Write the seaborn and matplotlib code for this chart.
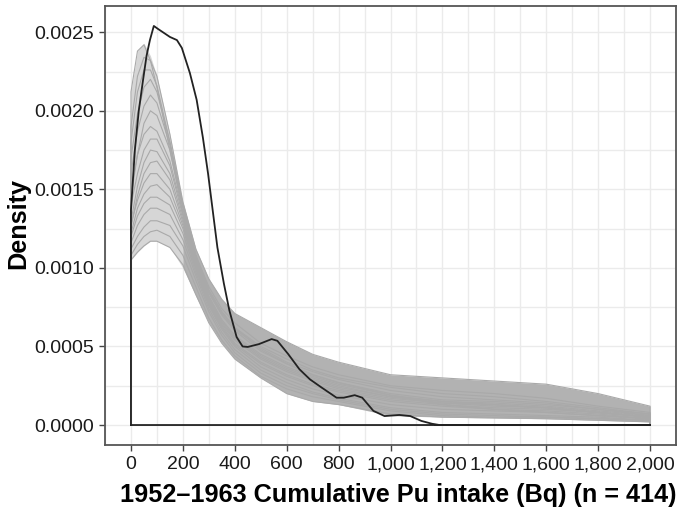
import matplotlib
matplotlib.use("Agg")
import matplotlib.pyplot as plt
from matplotlib.ticker import MultipleLocator, FuncFormatter
import seaborn as sns
import pandas as pd

# grid of intake values (Bq) where the simulated densities were read
grid_x = [0, 25, 50, 75, 100, 150, 200, 250, 300, 350, 400, 500, 600, 700, 800,
          1000, 1200, 1400, 1600, 1800, 2000]

# simulated densities (grey curves)
sim_1 = [0.00212, 0.00238, 0.00242, 0.00232, 0.00215, 0.00175, 0.00135, 0.00105, 0.00085, 0.00072, 0.00062,
         0.00048, 0.00039, 0.00032, 0.00027, 0.00019, 0.00013, 0.00010, 0.00008, 0.00006, 0.00004]
sim_2 = [0.00190, 0.00222, 0.00234, 0.00232, 0.00222, 0.00185, 0.00142, 0.00112, 0.00093, 0.00080, 0.00071,
         0.00062, 0.00053, 0.00045, 0.00040, 0.00032, 0.00030, 0.00028, 0.00026, 0.00020, 0.00012]
sim_3 = [0.00170, 0.00198, 0.00215, 0.00220, 0.00212, 0.00180, 0.00140, 0.00108, 0.00086, 0.00072, 0.00062,
         0.00050, 0.00042, 0.00035, 0.00030, 0.00024, 0.00020, 0.00018, 0.00015, 0.00011, 0.00007]
sim_4 = [0.00145, 0.00172, 0.00192, 0.00200, 0.00197, 0.00175, 0.00138, 0.00106, 0.00084, 0.00070, 0.00060,
         0.00047, 0.00039, 0.00032, 0.00027, 0.00020, 0.00016, 0.00015, 0.00013, 0.00010, 0.00007]
sim_5 = [0.00150, 0.00172, 0.00185, 0.00190, 0.00187, 0.00168, 0.00135, 0.00104, 0.00082, 0.00067, 0.00057,
         0.00045, 0.00037, 0.00031, 0.00026, 0.00019, 0.00015, 0.00013, 0.00011, 0.00008, 0.00005]
sim_6 = [0.00130, 0.00152, 0.00167, 0.00175, 0.00174, 0.00160, 0.00131, 0.00102, 0.00080, 0.00065, 0.00055,
         0.00043, 0.00035, 0.00029, 0.00024, 0.00018, 0.00015, 0.00014, 0.00012, 0.00009, 0.00006]
sim_7 = [0.00128, 0.00143, 0.00154, 0.00160, 0.00160, 0.00150, 0.00127, 0.00100, 0.00078, 0.00063, 0.00052,
         0.00040, 0.00032, 0.00026, 0.00022, 0.00016, 0.00013, 0.00011, 0.00010, 0.00008, 0.00005]
sim_8 = [0.00120, 0.00133, 0.00141, 0.00145, 0.00145, 0.00140, 0.00122, 0.00097, 0.00076, 0.00061, 0.00050,
         0.00037, 0.00029, 0.00023, 0.00019, 0.00013, 0.00010, 0.00009, 0.00008, 0.00006, 0.00004]
sim_9 = [0.00112, 0.00120, 0.00126, 0.00130, 0.00130, 0.00127, 0.00114, 0.00092, 0.00072, 0.00057, 0.00046,
         0.00033, 0.00025, 0.00020, 0.00016, 0.00010, 0.00007, 0.00006, 0.00005, 0.00004, 0.00003]
sim_10 = [0.00105, 0.00110, 0.00114, 0.00117, 0.00117, 0.00113, 0.00102, 0.00083, 0.00065, 0.00052, 0.00042,
          0.00030, 0.00020, 0.00015, 0.00013, 0.00007, 0.00005, 0.000045, 0.00004, 0.00003, 0.00002]
sim_11 = [0.00180, 0.00212, 0.00226, 0.00226, 0.00216, 0.00180, 0.00140, 0.00108, 0.00088, 0.00074, 0.00065,
          0.00052, 0.00044, 0.00037, 0.00032, 0.00025, 0.00022, 0.00020, 0.00017, 0.00012, 0.00008]
sim_12 = [0.00160, 0.00187, 0.00203, 0.00210, 0.00205, 0.00178, 0.00139, 0.00107, 0.00085, 0.00071, 0.00061,
          0.00049, 0.00040, 0.00034, 0.00029, 0.00022, 0.00018, 0.00016, 0.00014, 0.00010, 0.00006]
sim_13 = [0.00140, 0.00160, 0.00175, 0.00182, 0.00182, 0.00165, 0.00133, 0.00103, 0.00081, 0.00066, 0.00056,
          0.00044, 0.00036, 0.00030, 0.00025, 0.00018, 0.00014, 0.00012, 0.00011, 0.00008, 0.00005]
sim_14 = [0.00126, 0.00146, 0.00160, 0.00167, 0.00168, 0.00156, 0.00129, 0.00101, 0.00079, 0.00064, 0.00054,
          0.00042, 0.00034, 0.00028, 0.00023, 0.00017, 0.00014, 0.00013, 0.00011, 0.00008, 0.00005]
sim_15 = [0.00122, 0.00138, 0.00147, 0.00152, 0.00153, 0.00145, 0.00125, 0.00099, 0.00077, 0.00062, 0.00051,
          0.00039, 0.00031, 0.00025, 0.00021, 0.00015, 0.00012, 0.00010, 0.00009, 0.00007, 0.00004]
sim_16 = [0.00116, 0.00127, 0.00134, 0.00138, 0.00138, 0.00134, 0.00118, 0.00095, 0.00074, 0.00059, 0.00048,
          0.00035, 0.00027, 0.00021, 0.00017, 0.00011, 0.00008, 0.00007, 0.00006, 0.00005, 0.00003]
sim_17 = [0.00108, 0.00115, 0.00120, 0.00123, 0.00124, 0.00120, 0.00108, 0.00088, 0.00068, 0.00054, 0.00044,
          0.00031, 0.00023, 0.00018, 0.00015, 0.00009, 0.00006, 0.00005, 0.00005, 0.00004, 0.00003]
sims = [sim_1, sim_2, sim_3, sim_4, sim_5, sim_6, sim_7, sim_8, sim_9, sim_10,
        sim_11, sim_12, sim_13, sim_14, sim_15, sim_16, sim_17]

# envelope of the whole simulated band
band_upper = [0.00212, 0.00238, 0.00243, 0.00235, 0.00222, 0.00185, 0.00142, 0.00112, 0.00093, 0.00080, 0.00071,
              0.00062, 0.00053, 0.00045, 0.00040, 0.00032, 0.00030, 0.00028, 0.00026, 0.00020, 0.00012]
band_lower = [0.00105, 0.00110, 0.00114, 0.00117, 0.00117, 0.00113, 0.00100, 0.00082, 0.00065, 0.00052, 0.00042,
              0.00030, 0.00020, 0.00015, 0.00013, 0.00006, 0.00005, 0.000045, 0.00004, 0.00003, 0.00002]

# observed density (black curve)
obs_x = [0, 15, 30, 46, 60, 73, 88, 105, 123, 150, 177, 196, 227, 253, 277, 297, 310, 333, 358, 379, 407, 430,
         450, 493, 542, 564, 606, 649, 690, 735, 792, 820, 862, 891, 934, 977, 1034, 1076, 1119, 1160, 1189, 2000]
obs_y = [0.00137, 0.00175, 0.00200, 0.00219, 0.00235, 0.00245, 0.00254, 0.00252, 0.00250, 0.00247, 0.00245,
         0.00240, 0.00224, 0.00207, 0.00183, 0.00160, 0.00143, 0.00113, 0.00090, 0.00073, 0.00056, 0.00050,
         0.000497, 0.000515, 0.000547, 0.000536, 0.000451, 0.000355, 0.00029, 0.000238, 0.000174, 0.000174,
         0.00019, 0.000174, 0.00009, 0.000057, 0.000064, 0.000057, 0.000026, 0.000008, 0.0, 0.0]

rows = []
for i, s in enumerate(sims):
    xs = [0] + grid_x + [2000]
    ys = [0] + s + [0]
    for j in range(len(xs)):
        rows.append({"sim": i, "x": xs[j], "density": ys[j]})
sim_df = pd.DataFrame(rows)
# closed outline like geom_density: up at 0, along the curve, back along the baseline
obs_df = pd.DataFrame({"x": [0] + obs_x + [0], "density": [0] + obs_y + [0]})

sns.set_theme(style="white")
plt.rcParams["font.family"] = ["Liberation Sans", "DejaVu Sans"]

fig = plt.figure(figsize=(6.78, 5.12), dpi=100)
ax = fig.add_axes([0.1549, 0.1309, 0.8422, 0.8574])

# light band under the peaks, denser band further out
ax.fill_between(grid_x[:7], band_lower[:7], band_upper[:7], color="#d6d6d6", lw=0, zorder=2)
ax.fill_between(grid_x[6:], band_lower[6:], band_upper[6:], color="#b2b2b2", lw=0, zorder=2)
sns.lineplot(data=sim_df, x="x", y="density", units="sim", estimator=None, sort=False,
             color="#a9a9a9", lw=0.8, ax=ax, zorder=3)
sns.lineplot(data=obs_df, x="x", y="density", sort=False, estimator=None,
             color="#222222", lw=1.3, ax=ax, zorder=4)

ax.set_xlim(-100, 2100)
ax.set_ylim(-0.000127, 0.002667)
ax.xaxis.set_major_locator(MultipleLocator(200))
ax.xaxis.set_minor_locator(MultipleLocator(100))
ax.yaxis.set_major_locator(MultipleLocator(0.0005))
ax.yaxis.set_minor_locator(MultipleLocator(0.00025))
ax.xaxis.set_major_formatter(FuncFormatter(lambda v, p: f"{int(v):,}"))
ax.yaxis.set_major_formatter(FuncFormatter(lambda v, p: f"{v:.4f}"))
ax.grid(which="both", color="#ebebeb", lw=1.0, zorder=0)
ax.set_axisbelow(True)
for sp in ax.spines.values():
    sp.set_color("#555555")
    sp.set_linewidth(1.3)
ax.tick_params(which="major", length=4, width=1, color="#444444", labelsize=14,
               labelcolor="#1a1a1a", bottom=True, left=True, pad=4)
ax.tick_params(which="minor", length=0)

ax.set_xlabel("1952\u20131963 Cumulative Pu intake (Bq) (n = 414)", fontsize=18.2,
              fontweight="bold", color="black")
ax.xaxis.set_label_coords(0.514, -0.086)
ax.set_ylabel("Density", fontsize=18.2, fontweight="bold", color="black")
ax.yaxis.set_label_coords(-0.131, 0.505)

fig.savefig("out.png", dpi=100)
